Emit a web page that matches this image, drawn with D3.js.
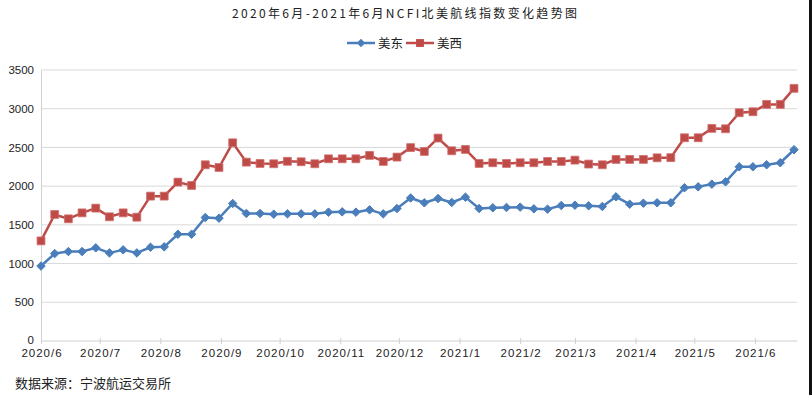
<!DOCTYPE html>
<html>
<head>
<meta charset="utf-8">
<script src="https://cdn.jsdelivr.net/npm/d3@7"></script>
<style>
  html, body { margin: 0; padding: 0; background: #fff; }
  svg { display: block; font-family: "Noto Sans CJK SC", "Noto Sans", sans-serif; }
</style>
</head>
<body>
<div id="chart"></div>
<script>
// 每周数据（周一）
const dates = [
  "2020-06-01","2020-06-08","2020-06-15","2020-06-22","2020-06-29","2020-07-06","2020-07-13","2020-07-20",
  "2020-07-27","2020-08-03","2020-08-10","2020-08-17","2020-08-24","2020-08-31","2020-09-07","2020-09-14",
  "2020-09-21","2020-09-28","2020-10-05","2020-10-12","2020-10-19","2020-10-26","2020-11-02","2020-11-09",
  "2020-11-16","2020-11-23","2020-11-30","2020-12-07","2020-12-14","2020-12-21","2020-12-28","2021-01-04",
  "2021-01-11","2021-01-18","2021-01-25","2021-02-01","2021-02-08","2021-02-15","2021-02-22","2021-03-01",
  "2021-03-08","2021-03-15","2021-03-22","2021-03-29","2021-04-05","2021-04-12","2021-04-19","2021-04-26",
  "2021-05-03","2021-05-10","2021-05-17","2021-05-24","2021-05-31","2021-06-07","2021-06-14","2021-06-21"
];

const usEast = [
  968, 1129, 1155, 1155, 1203, 1138, 1177, 1138, 1211, 1216,
  1379, 1379, 1595, 1586, 1776, 1647, 1647, 1638, 1642, 1642,
  1642, 1664, 1668, 1664, 1694, 1642, 1711, 1847, 1785, 1841,
  1789, 1858, 1711, 1720, 1724, 1729, 1707, 1703, 1750, 1754,
  1746, 1737, 1862, 1767, 1780, 1785, 1785, 1979, 1991, 2026,
  2056, 2250, 2250, 2276, 2302, 2470
];

const usWest = [
  1293, 1634, 1578, 1655, 1716, 1604, 1655, 1599, 1871, 1871,
  2052, 2009, 2276, 2241, 2560, 2310, 2293, 2289, 2321, 2315,
  2289, 2353, 2353, 2353, 2397, 2319, 2375, 2498, 2448, 2621,
  2457, 2474, 2293, 2302, 2293, 2302, 2302, 2319, 2319, 2336,
  2285, 2276, 2345, 2345, 2345, 2366, 2368, 2625, 2625, 2746,
  2741, 2948, 2961, 3056, 3056, 3263
];

const seriesNames = ["美东", "美西"];
const yTicks = [0, 500, 1000, 1500, 2000, 2500, 3000, 3500];

const width = 812, height = 395;
const margin = { left: 41, right: 18, top: 70, bottom: 54 };

const parse = d3.utcParse("%Y-%m-%d");
const xDates = dates.map(parse);

const svg = d3.select("#chart").append("svg")
  .attr("width", width)
  .attr("height", height);

const x = d3.scaleUtc()
  .domain(d3.extent(xDates))
  .range([margin.left, 794]);

const y = d3.scaleLinear()
  .domain([0, 3500])
  .range([height - margin.bottom, margin.top]);

// 标题
svg.append("text")
  .attr("x", 232)
  .attr("y", 18)
  .attr("textLength", 345)
  .attr("lengthAdjust", "spacing")
  .attr("font-size", 12)
  .attr("fill", "#222")
  .text("2020年6月-2021年6月NCFI北美航线指数变化趋势图");

// 网格线
svg.append("g")
  .selectAll("line")
  .data(yTicks.filter(d => d > 0))
  .join("line")
  .attr("x1", margin.left)
  .attr("x2", 797)
  .attr("y1", d => y(d))
  .attr("y2", d => y(d))
  .attr("stroke", "#d9d9d9")
  .attr("stroke-width", 1);

// Y轴
const yAxis = svg.append("g")
  .attr("transform", `translate(${margin.left},0)`)
  .call(d3.axisLeft(y).tickValues(yTicks).tickFormat(d3.format("d")).tickSize(0).tickPadding(7));
yAxis.select(".domain").attr("stroke", "#d0d0d0");
yAxis.selectAll("text")
  .attr("font-size", 11.5)
  .attr("fill", "#222")
  .attr("font-family", "'Liberation Sans', Arial, sans-serif");
yAxis.selectAll(".tick").filter(d => d === 0).select("text").attr("dy", "0.2em");

// X轴
const xAxis = svg.append("g")
  .attr("transform", `translate(0,${y(0)})`)
  .call(d3.axisBottom(x)
    .ticks(d3.utcMonth.every(1))
    .tickFormat(d3.utcFormat("%Y/%-m"))
    .tickSize(4)
    .tickPadding(4));
xAxis.select(".domain").attr("d", `M${margin.left},0H797`).attr("stroke", "#d0d0d0");
xAxis.selectAll(".tick line").attr("stroke", "#d0d0d0").attr("y1", -3).attr("y2", 3);
xAxis.selectAll("text")
  .attr("font-size", 11.5)
  .attr("fill", "#222")
  .attr("letter-spacing", 1)
  .attr("dx", "0.5")
  .attr("font-family", "'Liberation Sans', Arial, sans-serif");

// 系列
const series = [
  { name: seriesNames[0], values: usEast, color: "#4a7ebb", marker: "diamond" },
  { name: seriesNames[1], values: usWest, color: "#be4b48", marker: "square" }
];

const line = d3.line()
  .x((d, i) => x(xDates[i]))
  .y(d => y(d));

const diamond = d3.symbol().type(d3.symbolDiamond2).size(46);
const square = d3.symbol().type(d3.symbolSquare).size(62);

series.forEach(s => {
  svg.append("path")
    .datum(s.values)
    .attr("fill", "none")
    .attr("stroke", s.color)
    .attr("stroke-width", 2.5)
    .attr("stroke-linejoin", "round")
    .attr("d", line);

  svg.append("g")
    .selectAll("path")
    .data(s.values)
    .join("path")
    .attr("transform", (d, i) => `translate(${x(xDates[i])},${y(d)})`)
    .attr("d", s.marker === "diamond" ? diamond : square)
    .attr("fill", s.color)
    .attr("stroke", s.marker === "diamond" ? s.color : "#d06f6c")
    .attr("stroke-width", s.marker === "diamond" ? 1 : 0.8);
});

// 图例
const legend = svg.append("g").attr("transform", "translate(347,43)");
const legendItems = [
  { name: seriesNames[0], color: "#4a7ebb", marker: diamond, x: 0 },
  { name: seriesNames[1], color: "#be4b48", marker: square, x: 59 }
];
legendItems.forEach(it => {
  const g = legend.append("g").attr("transform", `translate(${it.x},0)`);
  g.append("line")
    .attr("x1", 0).attr("x2", 28)
    .attr("stroke", it.color).attr("stroke-width", 2.5);
  g.append("path")
    .attr("transform", "translate(14,0)")
    .attr("d", it.marker)
    .attr("fill", it.color);
  g.append("text")
    .attr("x", 31)
    .attr("y", 4.5)
    .attr("font-size", 12.5)
    .attr("fill", "#222")
    .text(it.name);
});

// 数据来源
svg.append("text")
  .attr("x", 15)
  .attr("y", 388)
  .attr("font-size", 13)
  .attr("fill", "#222")
  .text("数据来源：宁波航运交易所");

// 右侧黑边
svg.append("rect")
  .attr("x", 809).attr("y", 0)
  .attr("width", 3).attr("height", height)
  .attr("fill", "#111");
</script>
</body>
</html>
